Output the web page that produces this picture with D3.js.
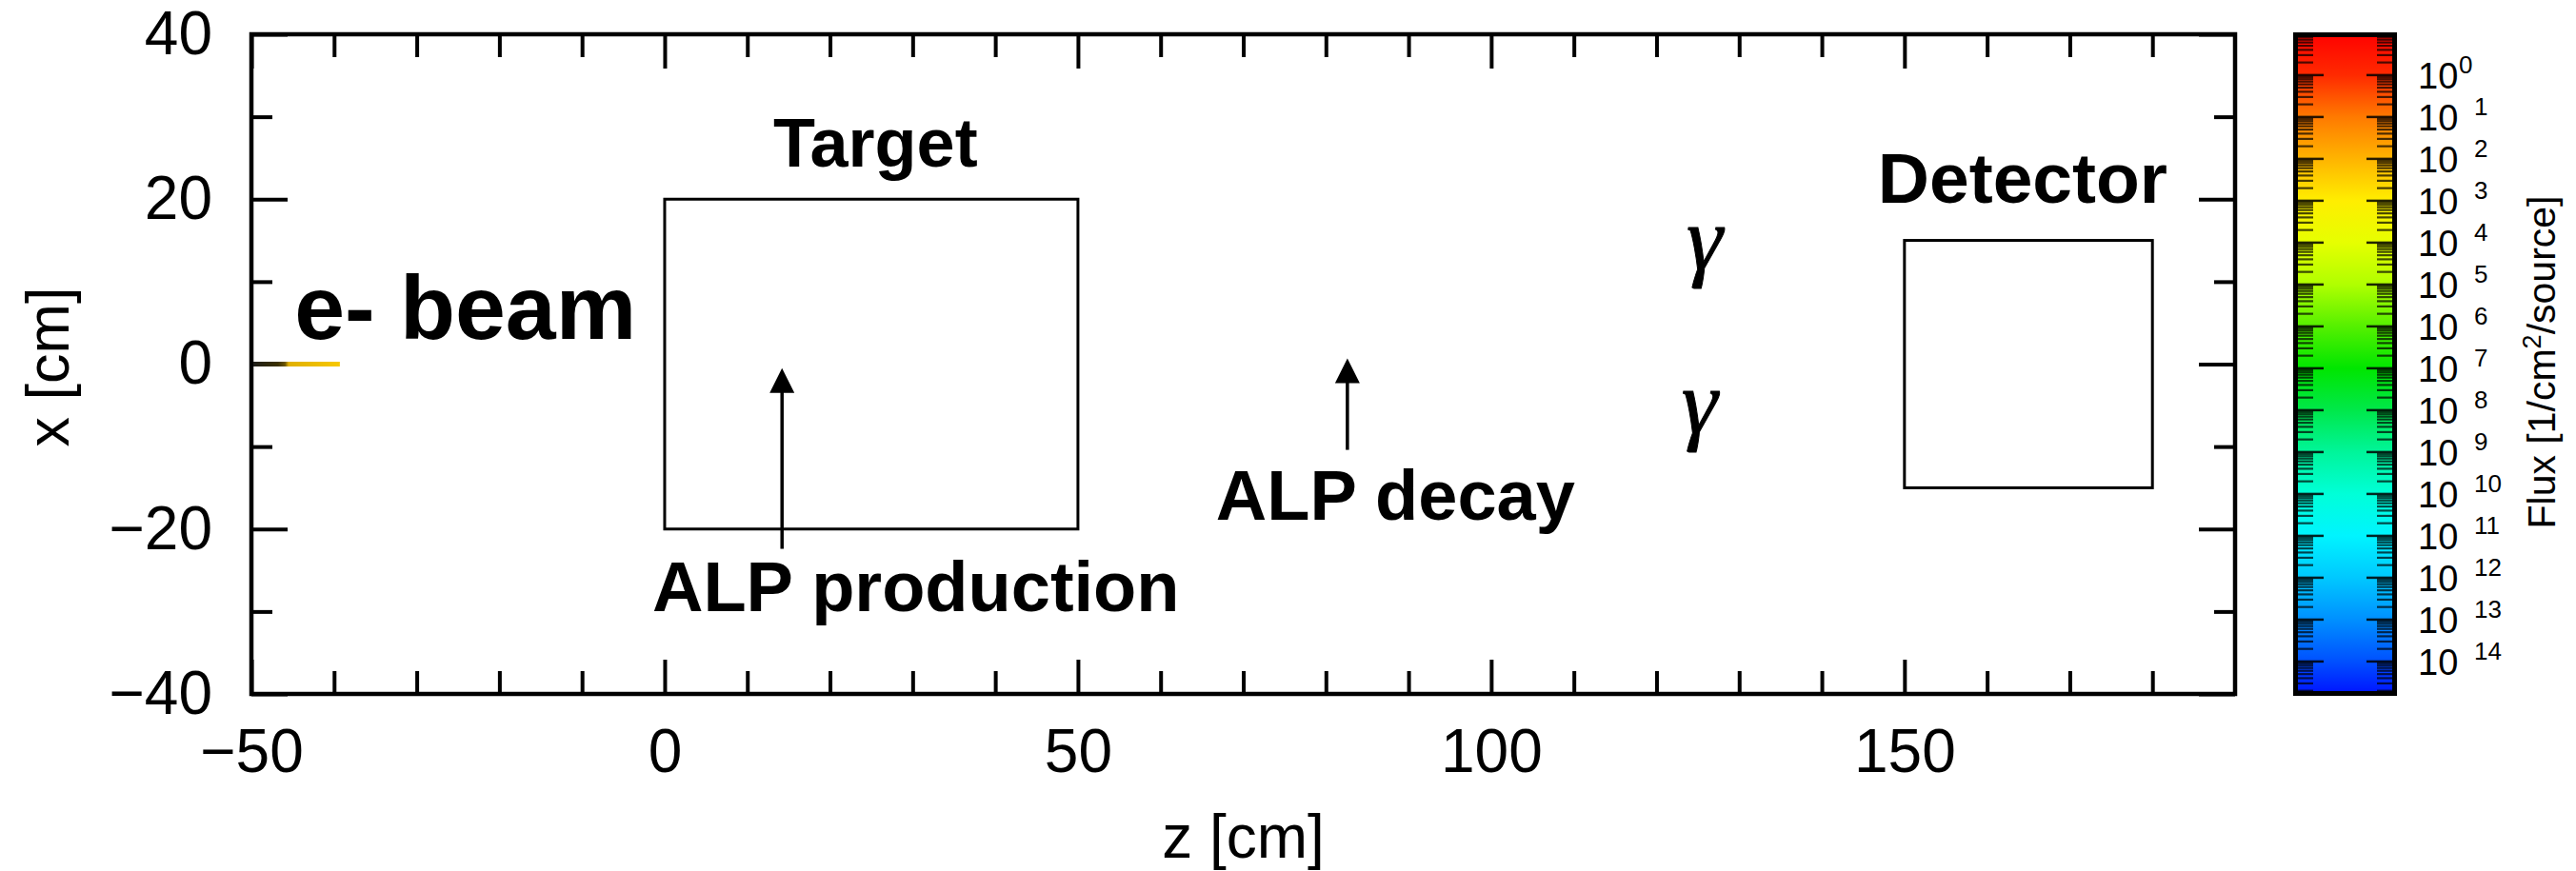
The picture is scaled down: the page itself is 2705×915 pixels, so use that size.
<!DOCTYPE html>
<html>
<head>
<meta charset="utf-8">
<script src="https://cdn.jsdelivr.net/npm/d3@7"></script>
<style>
  html, body { margin: 0; padding: 0; background: #fff; }
  svg { display: block; }
</style>
</head>
<body>
<svg id="chart" width="2705" height="915"></svg>
<script>
// ---------------- data ----------------
const zDomain = [-50, 190];
const xDomain = [-40, 40];
const zMajorTicks = [-50, 0, 50, 100, 150];
const zMinorTicks = [-40, -30, -20, -10, 10, 20, 30, 40, 60, 70, 80, 90, 110, 120, 130, 140, 160, 170, 180];
const xMajorTicks = [-40, -20, 0, 20, 40];
const xMinorTicks = [-30, -10, 10, 30];

// geometry of the setup [zStart, zEnd, xLow, xHigh]
const targetBox = [0, 50, -20, 20];
const detectorBox = [150, 180, -15, 15];
// beam track [zStart, zEnd, x]
const beamTrack = [-50, -39.3, 0];
// arrows [z, xFrom, xTo]
const productionArrow = [14.2, -22.4, -0.5];
const decayArrow = [82.6, -10.4, 0.7];

// annotation texts and anchor points [z, x]
const labelTexts = ["e- beam", "Target", "ALP production", "ALP decay", "Detector"];
const labelAnchors = [[-44.8, 3.1], [25.5, 23.9], [-1.5, -30.0], [66.7, -18.9], [164.3, 19.6]];
const gammaAnchors = [[125.8, 11.5], [125.2, -8.4]];

// colour bar: exponents (labels 10^n) and colour stops
const cbDomain = [-1.02, 14.82];
const cbLabelExps = [0, 1, 2, 3, 4, 5, 6, 7, 8, 9, 10, 11, 12, 13, 14];
const cbMinorDecades = [-1, 0, 1, 2, 3, 4, 5, 6, 7, 8, 9, 10, 11, 12, 13, 14];
const cbStopExps =   [-1.02,    0,        1,        2,        3,        4,        5,        6,        7,        8,        9,        10,       11,       12,       13,       14,       14.82];
const cbStopColors = ["#ff0000","#ff2a00","#ff7a00","#ffb400","#ffee00","#e6ff00","#b0ff00","#55f000","#00e600","#00e84a","#00f59a","#00ffd8","#00f4ff","#00c8ff","#0090ff","#0050ff","#0010ff"];

// ---------------- layout ----------------
const svg = d3.select("#chart");
const L = 264, R = 2347, T = 36, B = 729;
const z = d3.scaleLinear().domain(zDomain).range([L, R]);
const x = d3.scaleLinear().domain(xDomain).range([B, T]);

const tickFont = "'Liberation Sans', Arial, Helvetica, sans-serif";
const boldFont = "'Liberation Sans', Arial, Helvetica, sans-serif";

svg.append("rect").attr("width", 2705).attr("height", 915).attr("fill", "#fff");

function styleAxis(g, withLabels) {
  g.select(".domain").remove();
  g.selectAll(".tick line").attr("stroke", "#000").attr("stroke-width", 4);
  if (withLabels) {
    g.selectAll(".tick text").attr("fill", "#000")
      .style("font-family", tickFont).style("font-size", "64px");
  } else {
    g.selectAll(".tick text").remove();
  }
}

// bottom
svg.append("g").attr("transform", `translate(0,${B})`)
  .call(d3.axisBottom(z).tickValues(zMajorTicks).tickSize(-36).tickPadding(37).tickFormat(d => d < 0 ? "\u2212" + Math.abs(d) : d))
  .call(g => styleAxis(g, true));
svg.append("g").attr("transform", `translate(0,${B})`)
  .call(d3.axisBottom(z).tickValues(zMinorTicks).tickSize(-24))
  .call(g => styleAxis(g, false));
// top
svg.append("g").attr("transform", `translate(0,${T})`)
  .call(d3.axisTop(z).tickValues(zMajorTicks).tickSize(-36))
  .call(g => styleAxis(g, false));
svg.append("g").attr("transform", `translate(0,${T})`)
  .call(d3.axisTop(z).tickValues(zMinorTicks).tickSize(-24))
  .call(g => styleAxis(g, false));
// left
svg.append("g").attr("transform", `translate(${L},0)`)
  .call(d3.axisLeft(x).tickValues(xMajorTicks).tickSize(-38).tickPadding(41).tickFormat(d => d < 0 ? "\u2212" + Math.abs(d) : d))
  .call(g => styleAxis(g, true));
svg.append("g").attr("transform", `translate(${L},0)`)
  .call(d3.axisLeft(x).tickValues(xMinorTicks).tickSize(-22))
  .call(g => styleAxis(g, false));
// right
svg.append("g").attr("transform", `translate(${R},0)`)
  .call(d3.axisRight(x).tickValues(xMajorTicks).tickSize(-38))
  .call(g => styleAxis(g, false));
svg.append("g").attr("transform", `translate(${R},0)`)
  .call(d3.axisRight(x).tickValues(xMinorTicks).tickSize(-22))
  .call(g => styleAxis(g, false));

// frame
svg.append("rect").attr("x", L).attr("y", T).attr("width", R - L).attr("height", B - T)
  .attr("fill", "none").attr("stroke", "#000").attr("stroke-width", 4.5);

// axis titles
svg.append("text").attr("x", (L + R) / 2).attr("y", 901).attr("text-anchor", "middle")
  .style("font-family", tickFont).style("font-size", "64px").text("z [cm]");
svg.append("text").attr("transform", `translate(72,${(T + B) / 2 + 3}) rotate(-90)`).attr("text-anchor", "middle")
  .style("font-family", tickFont).style("font-size", "63px").text("x [cm]");

// ---------------- boxes ----------------
[targetBox, detectorBox].forEach(b => {
  svg.append("rect")
    .attr("x", z(b[0])).attr("y", x(b[3]))
    .attr("width", z(b[1]) - z(b[0])).attr("height", x(b[2]) - x(b[3]))
    .attr("fill", "none").attr("stroke", "#000").attr("stroke-width", 3);
});

// ---------------- beam ----------------
const defs = svg.append("defs");
const bg = defs.append("linearGradient").attr("id", "beamGrad")
  .attr("gradientUnits", "userSpaceOnUse")
  .attr("x1", z(beamTrack[0])).attr("x2", z(beamTrack[1])).attr("y1", 0).attr("y2", 0);
[[0, "#1c1c1c"], [0.3, "#3a3000"], [0.38, "#6a5400"], [0.42, "#e0b000"], [1, "#f7c800"]]
  .forEach(s => bg.append("stop").attr("offset", s[0]).attr("stop-color", s[1]));
svg.append("line")
  .attr("x1", z(beamTrack[0]) + 2).attr("x2", z(beamTrack[1]))
  .attr("y1", x(beamTrack[2])).attr("y2", x(beamTrack[2]))
  .attr("stroke", "url(#beamGrad)").attr("stroke-width", 5);

// ---------------- arrows ----------------
[productionArrow, decayArrow].forEach(a => {
  const px = z(a[0]), y0 = x(a[1]), y1 = x(a[2]);
  const headH = 26, headW = 13;
  svg.append("line").attr("x1", px).attr("x2", px).attr("y1", y0).attr("y2", y1 + headH - 2)
    .attr("stroke", "#000").attr("stroke-width", 3.5);
  svg.append("path")
    .attr("d", `M${px},${y1} L${px - headW},${y1 + headH} L${px + headW},${y1 + headH} Z`)
    .attr("fill", "#000");
});

// ---------------- labels ----------------
const labelSizes = [95, 72, 74, 74, 75];
const labelAnchorsH = ["start", "middle", "start", "start", "middle"];
labelTexts.forEach((t, i) => {
  svg.append("text")
    .attr("x", z(labelAnchors[i][0])).attr("y", x(labelAnchors[i][1]))
    .attr("text-anchor", labelAnchorsH[i])
    .style("font-family", boldFont).style("font-weight", "bold")
    .style("font-size", labelSizes[i] + "px")
    .text(t);
});
gammaAnchors.forEach(p => {
  svg.append("text")
    .attr("x", z(p[0])).attr("y", x(p[1]))
    .attr("text-anchor", "middle")
    .style("font-family", "'Liberation Serif', 'Times New Roman', serif")
    .style("font-style", "italic").style("font-size", "96px")
    .attr("stroke", "#000").attr("stroke-width", 1)
    .text("\u03b3");
});

// ---------------- colour bar ----------------
const cbL = 2408, cbR = 2517, cbT = 34, cbB = 731;
const cbY = d3.scaleLinear().domain(cbDomain).range([cbT, cbB]);
const cbColor = d3.scaleLinear().domain(cbStopExps).range(cbStopColors);
const cg = defs.append("linearGradient").attr("id", "cbGrad")
  .attr("gradientUnits", "userSpaceOnUse")
  .attr("x1", 0).attr("x2", 0).attr("y1", cbT).attr("y2", cbB);
cbStopExps.forEach(e => cg.append("stop")
  .attr("offset", (cbY(e) - cbT) / (cbB - cbT)).attr("stop-color", cbColor(e)));
svg.append("rect").attr("x", cbL).attr("y", cbT).attr("width", cbR - cbL).attr("height", cbB - cbT)
  .attr("fill", "url(#cbGrad)");

const inL = cbL + 5, inR = cbR - 5;
// minor (log) ticks
cbMinorDecades.forEach(e => {
  d3.range(2, 10).forEach(k => {
    const v = e + 1 - Math.log10(k);
    if (v > cbDomain[1] || v < cbDomain[0]) return;
    const yy = cbY(v);
    svg.append("line").attr("x1", inL).attr("x2", inL + 16).attr("y1", yy).attr("y2", yy)
      .attr("stroke", "rgba(0,0,0,0.7)").attr("stroke-width", 2.2);
    svg.append("line").attr("x1", inR - 16).attr("x2", inR).attr("y1", yy).attr("y2", yy)
      .attr("stroke", "rgba(0,0,0,0.7)").attr("stroke-width", 2.2);
  });
});
// decade ticks + labels
cbLabelExps.forEach(e => {
  const yy = cbY(e);
  svg.append("line").attr("x1", inL).attr("x2", inL + 27).attr("y1", yy).attr("y2", yy)
    .attr("stroke", "rgba(0,0,0,0.85)").attr("stroke-width", 2.5);
  svg.append("line").attr("x1", inR - 27).attr("x2", inR).attr("y1", yy).attr("y2", yy)
    .attr("stroke", "rgba(0,0,0,0.85)").attr("stroke-width", 2.5);
  const t = svg.append("text").attr("x", 2539).attr("y", yy + 14)
    .style("font-family", tickFont).style("font-size", "38px").attr("fill", "#000");
  t.append("tspan").text("10");
  t.append("tspan").attr("x", e === 0 ? 2582 : 2598).attr("dy", -16)
    .style("font-size", "26px").text(e);
});
svg.append("rect").attr("x", cbL + 2.5).attr("y", cbT + 2.5)
  .attr("width", cbR - cbL - 5).attr("height", cbB - cbT - 5)
  .attr("fill", "none").attr("stroke", "#000").attr("stroke-width", 5);

svg.append("text")
  .attr("transform", `translate(2683,${(cbT + cbB) / 2 - 2}) rotate(-90)`)
  .attr("text-anchor", "middle")
  .style("font-family", tickFont).style("font-size", "41px")
  .call(t => {
    t.append("tspan").text("Flux [1/cm");
    t.append("tspan").attr("dy", -15).style("font-size", "27px").text("2");
    t.append("tspan").attr("dy", 15).text("/source]");
  });
</script>
</body>
</html>
